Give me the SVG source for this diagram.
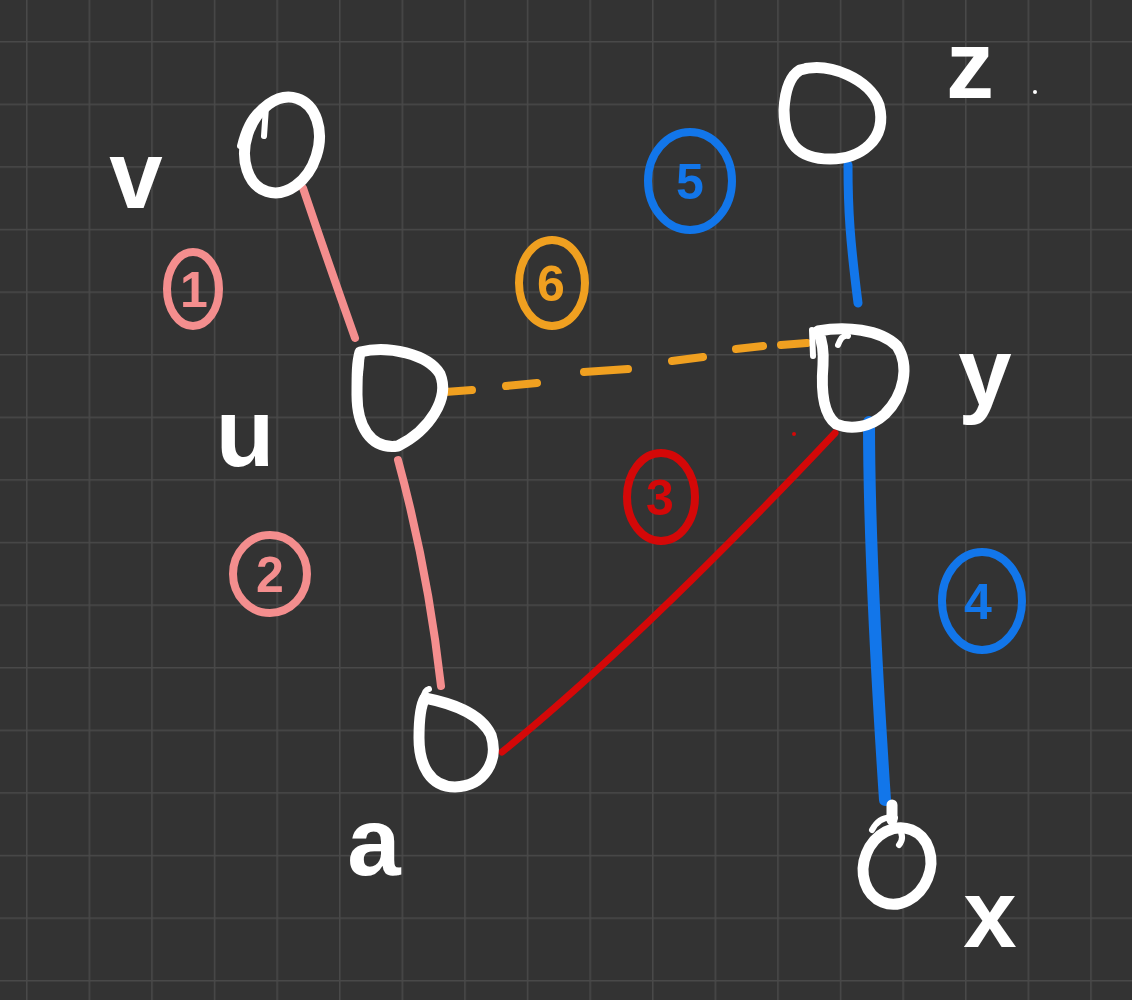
<svg xmlns="http://www.w3.org/2000/svg" width="1132" height="1000" viewBox="0 0 1132 1000">
<defs>
<pattern id="grid" patternUnits="userSpaceOnUse" x="26" y="41" width="62.6" height="62.6">
<path d="M0,0 H62.6 M0,0 V62.6" fill="none" stroke="#494949" stroke-width="3"/>
</pattern>
</defs>
<style>
.node{fill:none;stroke:#ffffff;stroke-width:11;stroke-linecap:round;stroke-linejoin:round}
.hook{fill:none;stroke:#ffffff;stroke-width:6;stroke-linecap:round}
.lbl{font-family:"Liberation Sans",Arial,sans-serif;font-size:96px;font-weight:bold;fill:#ffffff;text-anchor:middle}
.num{font-family:"Liberation Sans",Arial,sans-serif;font-size:50px;font-weight:bold;text-anchor:middle}
.ring{fill:none;stroke-width:8}
.pink{stroke:#f48e8e}
.red{stroke:#d40808}
.orange{stroke:#f0a020}
.blue{stroke:#1276ea}
.edge{fill:none;stroke-linecap:round}
</style>
<rect width="1132" height="1000" fill="#333333"/>
<rect width="1132" height="1000" fill="url(#grid)"/>

<g id="connectors">
<path class="edge pink" stroke-width="8" d="M303,188 Q328,262 355,338"/>
<path class="edge pink" stroke-width="8" d="M398,460 Q428,570 441,686"/>
<path class="edge red" stroke-width="7" d="M502,752 Q640,640 835,433"/>
<path class="edge orange" stroke-width="8" d="M445,392 L472,390 M506,386 L537,383 M584,372 L628,369 M672,361 L703,357 M736,349 L763,346 M781,345 L807,343"/>
<path class="edge blue" stroke-width="9" d="M848,165 C848,210 850,240 858,303"/>
<path class="edge blue" stroke-width="12" d="M869,422 C869,520 875,650 885,800"/>
<circle cx="794" cy="434" r="2" fill="#d40808"/>
</g>

<g id="node-v">
<ellipse class="node" cx="282" cy="145" rx="36" ry="49" transform="rotate(18 282 145)"/>
<path class="hook" d="M240,146 Q248,112 268,104 M266,107 L264,136"/>
<text class="lbl" x="136" y="208">v</text>
</g>

<g id="node-u">
<path class="node" d="M360,352 C388,345 428,354 440,374 C450,398 430,430 398,446 C370,450 357,425 357,395 C357,375 357,362 360,352 Z"/>
<path class="hook" d="M362,352 L360,374"/>
<text class="lbl" x="245" y="466">u</text>
</g>

<g id="node-a">
<path class="node" d="M425,698 C450,703 480,712 491,735 C499,760 485,786 455,787 C430,787 419,765 419,738 C419,720 420,706 425,698 Z"/>
<path class="hook" d="M423,700 Q424,690 429,689"/>
<text class="lbl" x="374" y="875">a</text>
</g>

<g id="node-z">
<path class="node" d="M800,70 C830,61 870,80 879,105 C888,140 860,159 830,159 C796,159 784,140 784,110 C785,90 790,76 800,70 Z"/>
<path class="hook" d="M786,96 Q791,75 806,66"/>
<text class="lbl" x="970" y="98">z</text>
<circle cx="1035" cy="92" r="2" fill="#ffffff"/>
</g>

<g id="node-y">
<path class="node" d="M818,331 C845,326 880,329 897,346 C910,366 904,395 885,414 C870,428 850,430 836,424 C823,414 821,390 823,365 C824,350 822,340 818,331 Z"/>
<path class="hook" d="M812,330 L813,356 M838,345 Q842,334 848,336"/>
<text class="lbl" x="985" y="405">y</text>
</g>

<g id="node-x">
<ellipse class="node" cx="897" cy="866" rx="33" ry="39" transform="rotate(22 897 866)"/>
<path class="node" d="M892,805 L892,820"/>
<path class="hook" d="M872,830 Q880,815 895,818 M899,828 Q905,838 899,845"/>
<text class="lbl" x="990" y="947">x</text>
</g>

<g id="label-1">
<ellipse class="ring pink" cx="193" cy="289" rx="26" ry="37"/>
<text class="num" x="194" y="307" fill="#f48e8e">1</text>
</g>
<g id="label-2">
<ellipse class="ring pink" cx="270" cy="574" rx="37" ry="39"/>
<text class="num" x="270" y="592" fill="#f48e8e">2</text>
</g>
<g id="label-3">
<ellipse class="ring red" cx="661" cy="497" rx="34" ry="44"/>
<text class="num" x="660" y="515" fill="#d40808">3</text>
</g>
<g id="label-4">
<ellipse class="ring blue" cx="982" cy="601" rx="40" ry="49"/>
<text class="num" x="978" y="619" fill="#1276ea">4</text>
</g>
<g id="label-5">
<ellipse class="ring blue" cx="690" cy="181" rx="42" ry="49"/>
<text class="num" x="690" y="199" fill="#1276ea">5</text>
</g>
<g id="label-6">
<ellipse class="ring orange" cx="552" cy="283" rx="33" ry="43"/>
<text class="num" x="551" y="301" fill="#f0a020">6</text>
</g>
</svg>
